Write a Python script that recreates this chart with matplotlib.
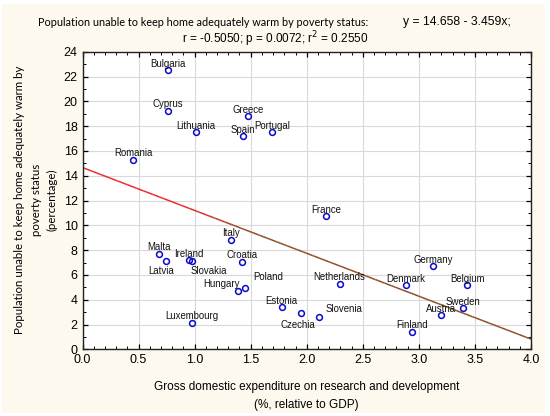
import numpy as np
import matplotlib
matplotlib.use("Agg")
import matplotlib.pyplot as plt
from matplotlib.collections import LineCollection
from matplotlib.patches import Rectangle
from matplotlib.ticker import MultipleLocator

countries = ["Bulgaria", "Cyprus", "Lithuania", "Greece", "Spain", "Portugal", "Romania",
             "France", "Italy", "Malta", "Latvia", "Ireland", "Slovakia", "Croatia",
             "Hungary", "Poland", "Luxembourg", "Estonia", "Czechia", "Slovenia",
             "Netherlands", "Germany", "Denmark", "Belgium", "Sweden", "Austria", "Finland"]
gerd = [0.765, 0.765, 1.015, 1.476, 1.434, 1.693, 0.453,
        2.172, 1.322, 0.682, 0.748, 0.947, 0.979, 1.426,
        1.384, 1.450, 0.977, 1.777, 1.952, 2.107,
        2.293, 3.129, 2.886, 3.430, 3.394, 3.195, 2.942]
warm = [22.52, 19.24, 17.52, 18.79, 17.18, 17.52, 15.27,
        10.75, 8.84, 7.69, 7.15, 7.20, 7.15, 7.06,
        4.73, 4.94, 2.15, 3.41, 2.95, 2.60,
        5.29, 6.69, 5.16, 5.16, 3.33, 2.74, 1.42]
intercept = 14.658
slope = -3.459
xticks = [0.0, 0.5, 1.0, 1.5, 2.0, 2.5, 3.0, 3.5, 4.0]
yticks = [0, 2, 4, 6, 8, 10, 12, 14, 16, 18, 20, 22, 24]

# label offsets in pixels (dx, dy), default above point
label_off = {"Latvia": (-5, -10), "Slovakia": (17, -10), "Hungary": (-16, 7),
             "Poland": (23, 11), "Czechia": (-3, -12), "Slovenia": (25, 8)}

W, H = 550, 416
fig = plt.figure(figsize=(5.5, 4.16), dpi=100)
fig.patch.set_facecolor("white")
fig.patches.append(Rectangle((2 / W, 3 / H), 543 / W, 409 / H, transform=fig.transFigure,
                             facecolor="#fef9ee", edgecolor="none", zorder=-10))

L, R, T, B = 82.5, 531, 51.7, 349.3
ax = fig.add_axes([L / W, 1 - B / H, (R - L) / W, (B - T) / H])
ax.set_facecolor("white")
ax.set_xlim(0, 4)
ax.set_ylim(0, 24)
ax.set_xticks(xticks)
ax.set_yticks(yticks)
ax.set_xticklabels([f"{v:.1f}" for v in xticks])
ax.set_yticklabels([str(v) for v in yticks])
ax.xaxis.set_minor_locator(MultipleLocator(0.1))
ax.yaxis.set_minor_locator(MultipleLocator(1))
ax.tick_params(which="both", direction="in", top=True, right=True, colors="black",
               labelsize=9, pad=3.5)
ax.tick_params(which="major", length=3.5, width=0.9)
ax.tick_params(which="minor", length=2, width=0.7)
for lab in ax.get_xticklabels() + ax.get_yticklabels():
    lab.set_fontfamily("Liberation Sans")
ax.grid(True, which="major", color="#d9d9d9", linewidth=0.8)
ax.set_axisbelow(True)
for s in ax.spines.values():
    s.set_linewidth(1.0)
    s.set_color("#222222")

# regression line with red -> brown colour shift
xs = np.linspace(0, 4, 200)
ys = intercept + slope * xs
pts = np.array([xs, ys]).T.reshape(-1, 1, 2)
segs = np.concatenate([pts[:-1], pts[1:]], axis=1)
red = np.array(matplotlib.colors.to_rgb("#e8262a"))
brown = np.array(matplotlib.colors.to_rgb("#8b4a22"))
t = np.clip((xs[:-1] - 0.9) / 0.6, 0, 1)[:, None]
cols = red * (1 - t) + brown * t
lc = LineCollection(segs, colors=cols, linewidths=1.1, zorder=2)
ax.add_collection(lc)

ax.plot(gerd, warm, linestyle="none", marker="o", ms=4.2, mfc="none", mec="#0a0acc",
        mew=1.1, zorder=3)
for c, x, y in zip(countries, gerd, warm):
    dx, dy = label_off.get(c, (0, 6.5))
    ax.annotate(c, (x, y), xytext=(dx, dy), textcoords="offset pixels", ha="center",
                va="center", fontsize=6.9, family="Liberation Sans", color="#111111",
                zorder=4)

# title
fig.text(368 / W, 1 - 22 / H, "Population unable to keep home adequately warm by poverty status:",
         ha="right", va="center", fontsize=7.85, family="Lato")
fig.text(403 / W, 1 - 22 / H, "y = 14.658 - 3.459x;", ha="left", va="center",
         fontsize=8.75, family="Liberation Sans")
fig.text(275.5 / W, 1 - 39 / H, "r = -0.5050; p = 0.0072; r$^{2}$ = 0.2550", ha="center",
         va="center", fontsize=8.5, family="Liberation Sans")

# x label
fig.text((L + R) / 2 / W, 1 - 387 / H, "Gross domestic expenditure on research and development",
         ha="center", va="center", fontsize=8.5, family="Liberation Sans")
fig.text((L + R) / 2 / W, 1 - 405 / H, "(%, relative to GDP)", ha="center", va="center",
         fontsize=8.5, family="Liberation Sans")

# y label
yc = 1 - 200 / H
for xp, txt in [(20, "Population unable to keep home adequately warm by"),
                (37, "poverty status"), (51.5, "(percentage)")]:
    fig.text(xp / W, yc, txt, rotation=90, ha="center", va="center", fontsize=8.3,
             family="Lato")

fig.savefig("out.png", dpi=100, facecolor=fig.get_facecolor())
